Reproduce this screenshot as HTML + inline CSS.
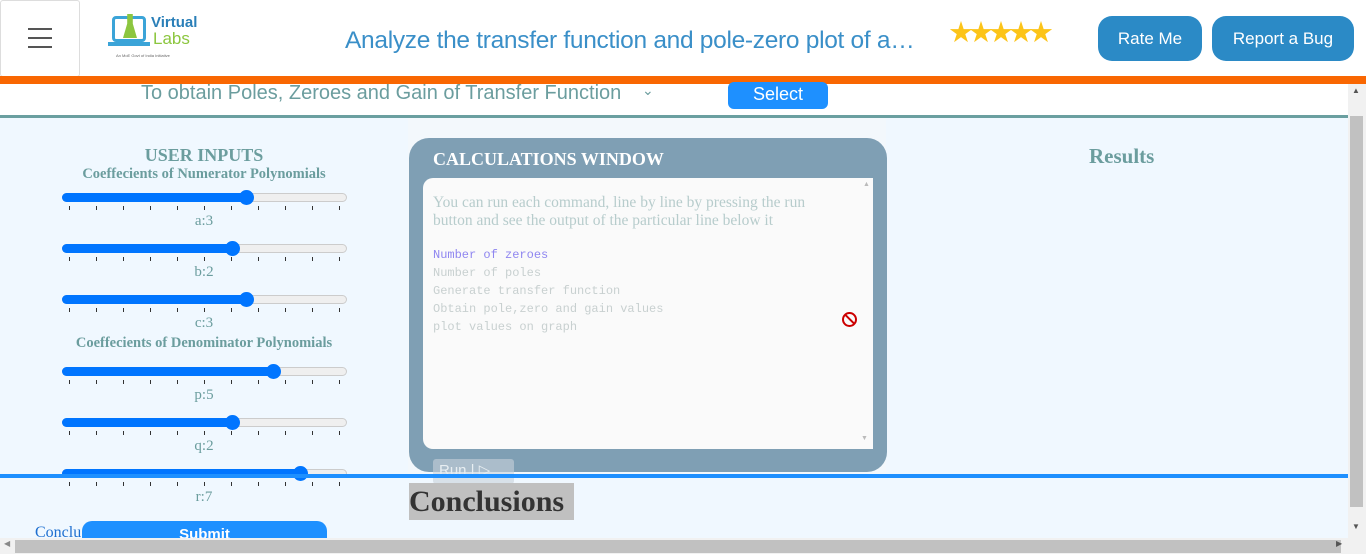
<!DOCTYPE html>
<html><head><meta charset="utf-8"><style>
*{margin:0;padding:0;box-sizing:border-box}
body{width:1366px;height:554px;overflow:hidden;position:relative;background:#fff;font-family:"Liberation Serif",serif}
.a{position:absolute}
.trk{position:absolute;left:62px;width:285px;height:9px;border-radius:5px;background:#efefef;border:1px solid #ccc}
.fill{position:absolute;left:62px;height:9px;border-radius:5px;background:#0075ff}
.th{position:absolute;width:15px;height:15px;border-radius:50%;background:#0075ff}
.tk{position:absolute;width:1px;height:4px;background:#333}
.lb{position:absolute;left:0;width:408px;text-align:center;color:#6b9d9e;font-size:15px}
.mono{font-family:"Liberation Mono",monospace;font-size:12px;color:#c8d0d0;position:absolute;left:433px}
</style></head><body>
<!-- header -->
<div class="a" style="left:0;top:0;width:80px;height:77px;border:1px solid #ddd;border-radius:3px;background:#fff"></div>
<div class="a" style="left:28px;top:28px;width:24px;height:2px;background:#555"></div>
<div class="a" style="left:28px;top:37px;width:24px;height:2px;background:#555"></div>
<div class="a" style="left:28px;top:46px;width:24px;height:2px;background:#555"></div>
<div class="a" style="left:112px;top:16px;width:34px;height:26px;border:3px solid #3ba4d8;border-radius:4px"></div>
<div class="a" style="left:123px;top:14px;width:14px;height:24px;background:#8cc63f;clip-path:polygon(30% 0,70% 0,70% 40%,100% 100%,0 100%,30% 40%)"></div>
<div class="a" style="left:108px;top:42px;width:42px;height:4px;background:#3ba4d8"></div>
<div class="a" style="left:151px;top:14px;font:bold 15px 'Liberation Sans',sans-serif;color:#2a7fb8">Virtual</div>
<div class="a" style="left:153px;top:29px;font:17px 'Liberation Sans',sans-serif;color:#8cc63f">Labs</div>
<div class="a" style="left:116px;top:53px;font:4px 'Liberation Sans',sans-serif;color:#666">An MoE Govt of India Initiative</div>
<div class="a" style="left:345px;top:27px;font:24.5px 'Liberation Sans',sans-serif;color:#3a8fc8;letter-spacing:-0.3px;white-space:nowrap">Analyze the transfer function and pole-zero plot of a…</div>
<div class="a" style="left:948px;top:15px;font:29px 'DejaVu Sans',sans-serif;color:#fcc419;letter-spacing:-6px">★★★★★</div>
<div class="a" style="left:1098px;top:16px;width:104px;height:45px;border-radius:14px;background:#2b8ac6;color:#fff;font:17px 'Liberation Sans',sans-serif;text-align:center;line-height:45px">Rate Me</div>
<div class="a" style="left:1212px;top:16px;width:142px;height:45px;border-radius:14px;background:#2b8ac6;color:#fff;font:17px 'Liberation Sans',sans-serif;text-align:center;line-height:45px">Report a Bug</div>
<div class="a" style="left:0;top:76px;width:1366px;height:8px;background:#f96702"></div>
<!-- iframe -->
<div class="a" style="left:0;top:84px;width:1348px;height:454px;background:#f0f8ff"></div>
<div class="a" style="left:0;top:84px;width:1348px;height:31px;background:#fff"></div>
<div class="a" style="left:141px;top:82px;font:20px 'Liberation Sans',sans-serif;color:#6b9d9e">To obtain Poles, Zeroes and Gain of Transfer Function</div>
<div class="a" style="left:642px;top:82px;font:14px 'Liberation Sans',sans-serif;color:#6b9d9e">⌄</div>
<div class="a" style="left:728px;top:82px;width:100px;height:27px;border-radius:6px;background:#1e90ff;color:#fff;font:18px 'Liberation Sans',sans-serif;text-align:center;line-height:24px">Select</div>
<div class="a" style="left:0;top:115px;width:1348px;height:3px;background:#6a9fa0"></div>
<div class="a" style="left:408px;top:118px;width:478px;height:356px;background:#f3f8fc"></div>
<!-- left -->
<div class="lb" style="top:145px;font-size:18px;font-weight:bold">USER INPUTS</div>
<div class="lb" style="top:166px;font-weight:bold;font-size:14.5px">Coeffecients of Numerator Polynomials</div>
<div class="lb" style="top:335px;font-weight:bold;font-size:14.5px">Coeffecients of Denominator Polynomials</div>
<div id="sl"></div>
<!-- calc -->
<div class="a" style="left:409px;top:138px;width:478px;height:334px;border-radius:20px;background:#7f9fb4"></div>
<div class="a" style="left:433px;top:149px;font-weight:bold;font-size:18px;color:#fff">CALCULATIONS WINDOW</div>
<div class="a" style="left:423px;top:178px;width:450px;height:271px;background:#fafafa;border-radius:10px 0 0 10px"></div>
<div class="a" style="left:863px;top:180px;font-size:7px;color:#bbb">▲</div>
<div class="a" style="left:861px;top:434px;font-size:7px;color:#bbb">▼</div>
<div class="a" style="left:433px;top:194px;font-size:15.5px;color:#b7cccc;line-height:18px">You can run each command, line by line by pressing the run<br>button and see the output of the particular line below it</div>
<div class="mono" style="top:248px;color:#8f86f0">Number of zeroes</div>
<div class="mono" style="top:266px">Number of poles</div>
<div class="mono" style="top:284px">Generate transfer function</div>
<div class="mono" style="top:302px">Obtain pole,zero and gain values</div>
<div class="mono" style="top:320px">plot values on graph</div>
<div class="a" style="left:842px;top:312px;width:15px;height:15px;border:2px solid #c00;border-radius:50%"></div>
<div class="a" style="left:843px;top:318px;width:13px;height:2px;background:#c00;transform:rotate(45deg)"></div>
<div class="a" style="left:433px;top:459px;width:81px;height:25px;background:rgba(200,210,218,.6);border-radius:3px;color:#e8eef2;font:15px 'Liberation Sans',sans-serif;padding:2px 6px">Run | ▷</div>
<div class="a" style="left:0;top:474px;width:1348px;height:4px;background:#1e90ff"></div>
<div class="a" style="left:409px;top:483px;width:165px;height:37px;background:#c0c0c0;font-weight:bold;font-size:30px;color:#333;line-height:37px">Conclusions</div>
<div class="a" style="left:1089px;top:144px;font-weight:bold;font-size:21px;color:#6b9d9e">Results</div>
<div class="a" style="left:35px;top:524px;font-size:16px;color:#1e6fd0">Conclu</div>
<div class="a" style="left:82px;top:521px;width:245px;height:30px;border-radius:10px 10px 0 0;background:#1e90ff;color:#fff;font:bold 15px 'Liberation Sans',sans-serif;text-align:center;padding-top:5px">Submit</div>
<!-- scrollbars -->
<div class="a" style="left:1348px;top:84px;width:18px;height:470px;background:#f1f1f1"></div>
<div class="a" style="left:1350px;top:116px;width:13px;height:391px;background:#c1c1c1"></div>
<div class="a" style="left:1352px;top:86px;font-size:8px;color:#555">▲</div>
<div class="a" style="left:1352px;top:522px;font-size:8px;color:#555">▼</div>
<div class="a" style="left:0;top:538px;width:1348px;height:16px;background:#f1f1f1"></div>
<div class="a" style="left:15px;top:540px;width:1326px;height:13px;background:#c1c1c1"></div>
<div class="a" style="left:4px;top:539px;font-size:8px;color:#888">◀</div>
<div class="a" style="left:1336px;top:539px;font-size:8px;color:#555">▶</div>
<script>
var d=[[197,246,'a:3'],[248,232,'b:2'],[299,246,'c:3'],[371,273,'p:5'],[422,232,'q:2'],[473,300,'r:7']],h='';
d.forEach(function(s){var y=s[0];
h+='<div class="trk" style="top:'+(y-4)+'px"></div><div class="fill" style="top:'+(y-4)+'px;width:'+(s[1]-62)+'px"></div><div class="th" style="top:'+(y-7)+'px;left:'+(s[1]-7)+'px"></div>';
for(var i=0;i<11;i++)h+='<div class="tk" style="top:'+(y+9)+'px;left:'+(69+i*27)+'px"></div>';
h+='<div class="lb" style="top:'+(y+16)+'px">'+s[2]+'</div>';});
document.getElementById('sl').innerHTML=h;
</script>
</body></html>
